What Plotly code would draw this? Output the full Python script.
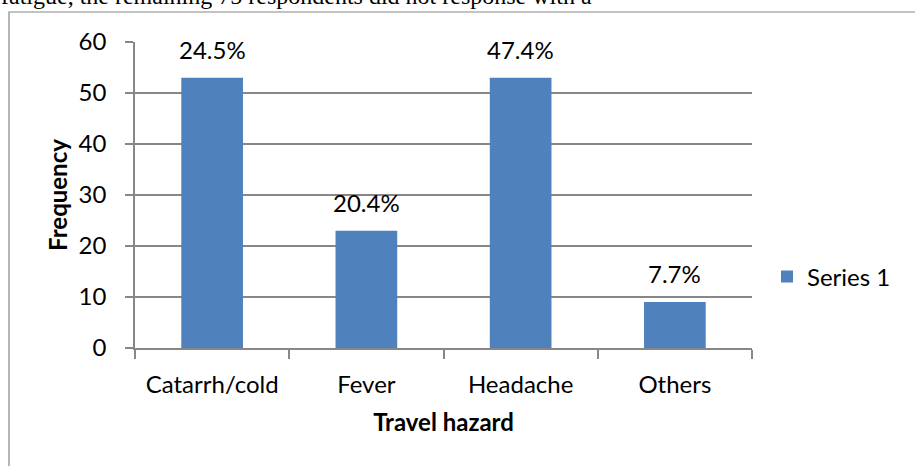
import plotly.graph_objects as go

categories = ["Catarrh/cold", "Fever", "Headache", "Others"]
frequency = [53, 23, 53, 9]
pct_labels = ["24.5%", "20.4%", "47.4%", "7.7%"]
y_ticks = [0, 10, 20, 30, 40, 50, 60]
series_name = "Series 1"
x_title = "Travel hazard"
y_title = "Frequency"
doc_text = "fatigue, the remaining 75 respondents did not response with a"

BAR = "#4F81BD"
GRID = "#878787"
FONT = "Lato, 'Open Sans', sans-serif"
FS = 24

W, H = 915, 466
ML, MR, MT, MB = 135, 163, 42, 118
PW = W - ML - MR
PH = H - MT - MB


def px_x(px):
    return (px - ML) / PW


def px_y(py):
    return (H - MB - py) / PH


fig = go.Figure()
fig.add_trace(go.Bar(
    x=categories, y=frequency, name=series_name,
    marker=dict(color=BAR, line=dict(width=0)),
    width=0.4, showlegend=True,
))

annotations = []
for c, v, t in zip(categories, frequency, pct_labels):
    annotations.append(dict(
        x=c, y=v, xref="x", yref="y", text=t, showarrow=False,
        yanchor="bottom", yshift=12, font=dict(family=FONT, size=FS, color="#000000"),
    ))

annotations.append(dict(
    x=px_x(-1), y=px_y(11), xref="paper", yref="paper", text=doc_text,
    showarrow=False, xanchor="left", yanchor="bottom",
    font=dict(family="Liberation Serif, serif", size=24, color="#000000"),
))

fig.update_layout(
    width=W, height=H,
    margin=dict(l=ML, r=MR, t=MT, b=MB),
    paper_bgcolor="white", plot_bgcolor="white",
    font=dict(family=FONT, size=FS, color="#000000"),
    bargap=0.6,
    annotations=annotations,
    legend=dict(x=px_x(767), y=px_y(277), xanchor="left", yanchor="middle",
                font=dict(family=FONT, size=FS, color="#000000"),
                bgcolor="rgba(0,0,0,0)"),
    shapes=[dict(type="rect", xref="paper", yref="paper",
                 x0=px_x(9), x1=px_x(1200), y0=px_y(800), y1=px_y(12),
                 line=dict(color=GRID, width=1.2), fillcolor="rgba(0,0,0,0)",
                 layer="below")],
)

fig.update_xaxes(
    type="category", tickson="boundaries", ticks="outside", ticklen=9,
    tickcolor=GRID, tickwidth=1.5,
    showline=True, linecolor=GRID, linewidth=1.5,
    showgrid=False, ticklabelstandoff=14,
    title=dict(text=x_title, font=dict(family=FONT, size=FS, color="#000000", weight="bold"), standoff=18),
)
fig.update_yaxes(
    range=[0, 60], tickvals=y_ticks, ticks="outside", ticklen=8,
    tickcolor=GRID, tickwidth=1.5,
    showline=True, linecolor=GRID, linewidth=1.5,
    showgrid=True, gridcolor=GRID, gridwidth=1.5, zeroline=False,
    ticklabelstandoff=14,
    title=dict(text=y_title, font=dict(family=FONT, size=FS, color="#000000", weight="bold"), standoff=4),
)

fig.write_html("out.html", config={"displayModeBar": False},
               post_script="document.body.style.margin='0px';document.body.style.overflow='hidden';")
